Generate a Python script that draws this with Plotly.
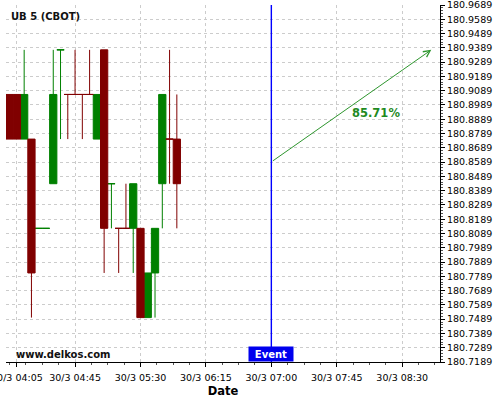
import plotly.graph_objects as go

# ---- data ----
times = [
    "2024-03-30 04:00", "2024-03-30 04:05", "2024-03-30 04:10", "2024-03-30 04:15",
    "2024-03-30 04:20", "2024-03-30 04:25", "2024-03-30 04:30", "2024-03-30 04:35",
    "2024-03-30 04:40", "2024-03-30 04:45", "2024-03-30 04:50", "2024-03-30 04:55",
    "2024-03-30 05:00", "2024-03-30 05:05", "2024-03-30 05:10", "2024-03-30 05:15",
    "2024-03-30 05:20", "2024-03-30 05:25", "2024-03-30 05:30", "2024-03-30 05:35",
    "2024-03-30 05:40", "2024-03-30 05:45", "2024-03-30 05:50", "2024-03-30 05:55",
]
opens = [180.90625, 180.90625, 180.875, 180.875, 180.8125, 180.8125, 180.84375, 180.9375,
         180.90625, 180.90625, 180.90625, 180.90625, 180.875, 180.9375, 180.84375, 180.8125,
         180.8125, 180.8125, 180.8125, 180.75, 180.78125, 180.84375, 180.875, 180.875]
highs = [180.90625, 180.90625, 180.9375, 180.875, 180.8125, 180.8125, 180.9375, 180.9375,
         180.90625, 180.9375, 180.90625, 180.9375, 180.90625, 180.9375, 180.84375, 180.8125,
         180.84375, 180.84375, 180.8125, 180.78125, 180.8125, 180.90625, 180.9375, 180.90625]
lows = [180.875, 180.875, 180.875, 180.75, 180.8125, 180.8125, 180.84375, 180.875,
        180.875, 180.90625, 180.875, 180.90625, 180.875, 180.78125, 180.8125, 180.78125,
        180.8125, 180.78125, 180.75, 180.75, 180.75, 180.8125, 180.84375, 180.8125]
closes = [180.875, 180.875, 180.90625, 180.78125, 180.8125, 180.8125, 180.90625, 180.9375,
          180.90625, 180.90625, 180.90625, 180.90625, 180.90625, 180.8125, 180.84375, 180.8125,
          180.8125, 180.84375, 180.75, 180.78125, 180.8125, 180.90625, 180.875, 180.84375]

x_tickvals = ["2024-03-30 04:05", "2024-03-30 04:45", "2024-03-30 05:30", "2024-03-30 06:15",
              "2024-03-30 07:00", "2024-03-30 07:45", "2024-03-30 08:30"]
x_ticktext = ["30/3 04:05", "30/3 04:45", "30/3 05:30", "30/3 06:15",
              "30/3 07:00", "30/3 07:45", "30/3 08:30"]
y_ticktext = ["180.7189", "180.7289", "180.7389", "180.7489", "180.7589", "180.7689",
              "180.7789", "180.7889", "180.7989", "180.8089", "180.8189", "180.8289",
              "180.8389", "180.8489", "180.8589", "180.8689", "180.8789", "180.8889",
              "180.8989", "180.9089", "180.9189", "180.9289", "180.9389", "180.9489",
              "180.9589", "180.9689"]
y_tickvals = [float(t) for t in y_ticktext]

title_text = "UB 5 (CBOT)"
event_time = "2024-03-30 07:00"
event_label = "Event"
arrow_start = ("2024-03-30 07:00", 180.859)
arrow_end = ("2024-03-30 08:50", 180.9375)
pct_label = "85.71%"
pct_pos = ("2024-03-30 08:12", 180.8931)
x_range = ["2024-03-30 03:57:30", "2024-03-30 08:56"]
y_range = [180.7189, 180.9689]

# direction: close vs open, ties resolved by previous close, then previous direction
dirs = []
prev_c, prev_d = None, 1
for o, c in zip(opens, closes):
    if c > o:
        d = 1
    elif c < o:
        d = -1
    elif prev_c is not None and c > prev_c:
        d = 1
    elif prev_c is not None and c < prev_c:
        d = -1
    else:
        d = prev_d
    dirs.append(d)
    prev_c, prev_d = c, d

GREEN = "#008000"
RED = "#800000"
FONT = "DejaVu Sans"

fig = go.Figure()
for sign, col in ((1, GREEN), (-1, RED)):
    idx = [i for i, d in enumerate(dirs) if d == sign]
    fig.add_trace(go.Candlestick(
        x=[times[i] for i in idx],
        open=[opens[i] for i in idx],
        high=[highs[i] for i in idx],
        low=[lows[i] for i in idx],
        close=[closes[i] for i in idx],
        increasing=dict(line=dict(color=col, width=1), fillcolor=col),
        decreasing=dict(line=dict(color=col, width=1), fillcolor=col),
        whiskerwidth=0,
        showlegend=False,
        hoverinfo="skip",
    ))

fig.add_shape(type="line", xref="x", yref="paper", x0=event_time, x1=event_time,
              y0=0, y1=1, line=dict(color="#0000ff", width=1.4))

fig.add_annotation(x=event_time, y=0, xref="x", yref="paper", yanchor="bottom",
                   text="<b>" + event_label + "</b>", showarrow=False,
                   bgcolor="#0000ee", width=44, height=14, borderpad=0,
                   font=dict(family=FONT, size=10, color="white"))

fig.add_annotation(x=arrow_end[0], y=arrow_end[1], ax=arrow_start[0], ay=arrow_start[1],
                   xref="x", yref="y", axref="x", ayref="y", text="",
                   showarrow=True, arrowhead=5, arrowsize=1.3, arrowwidth=1,
                   arrowcolor="#2e962e", standoff=0)

fig.add_annotation(x=pct_pos[0], y=pct_pos[1], xref="x", yref="y",
                   text="<b>" + pct_label + "</b>", showarrow=False,
                   font=dict(family=FONT, size=11.5, color="#1f8a1f"))

fig.add_annotation(x=0.008, y=0.9665, xref="paper", yref="paper", xanchor="left",
                   yanchor="middle", text="<b>" + title_text + "</b>", showarrow=False,
                   font=dict(family=FONT, size=10, color="#111111"))

fig.add_annotation(x=0.019, y=0.0223, xref="paper", yref="paper", xanchor="left",
                   yanchor="middle", text="<b>www.delkos.com</b>", showarrow=False,
                   font=dict(family=FONT, size=10, color="#111111"))

grid = dict(showgrid=True, gridcolor="#cccccc", gridwidth=1, griddash="3px,3px")

fig.update_layout(
    width=500, height=400,
    margin=dict(l=6, r=60, t=5, b=38, autoexpand=False),
    paper_bgcolor="white", plot_bgcolor="white",
    boxgap=0, boxgroupgap=0,
    font=dict(family=FONT, size=9.5, color="#000000"),
    xaxis=dict(
        type="date", range=x_range, rangeslider=dict(visible=False),
        tickmode="array", tickvals=x_tickvals, ticktext=x_ticktext,
        ticklabeloverflow="allow", ticklabelstandoff=3,
        showline=True, linecolor="black", linewidth=1,
        ticks="outside", ticklen=4, tickcolor="black",
        minor=dict(ticks="outside", ticklen=2, tickcolor="#555555",
                   tick0="2024-03-30 04:45", dtick=675000, showgrid=False),
        title=dict(text="<b>Date</b>", font=dict(family=FONT, size=11.5), standoff=4),
        zeroline=False, **grid,
    ),
    yaxis=dict(
        side="right", range=y_range,
        tickmode="array", tickvals=y_tickvals, ticktext=y_ticktext,
        ticklabeloverflow="allow",
        showline=True, linecolor="black", linewidth=1,
        ticks="outside", ticklen=4, tickcolor="black",
        minor=dict(ticks="outside", ticklen=2, tickcolor="#555555",
                   tick0=180.7189, dtick=0.002, showgrid=False),
        zeroline=False, **grid,
    ),
)

fig.write_html("out.html", config={"displayModeBar": False},
               post_script="document.body.style.margin='0';")
